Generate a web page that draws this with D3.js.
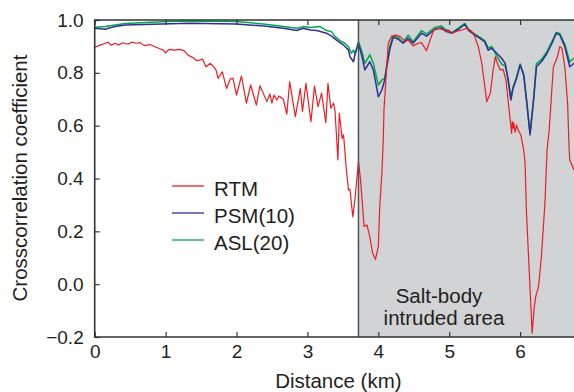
<!DOCTYPE html>
<html>
<head>
<meta charset="utf-8">
<script src="https://cdn.jsdelivr.net/npm/d3@7"></script>
<style>
  body { margin: 0; background: #fff; }
  svg text { font-family: "Liberation Sans", Arial, Helvetica, sans-serif; fill: #231f20; }
</style>
</head>
<body>
<div id="chart"></div>
<script>
// distance (km) / crosscorrelation
const rtmDist = [0.00,0.08,0.15,0.19,0.23,0.29,0.33,0.40,0.47,0.52,0.59,0.64,0.70,0.78,0.85,0.92,0.97,1.00,1.05,1.13,1.20,1.26,1.32,1.39,1.44,1.49,1.52,1.57,1.63,1.67,1.71,1.74,1.80,1.86,1.91,1.95,
  2.00,2.07,2.14,2.20,2.28,2.33,2.43,2.47,2.50,2.53,2.57,2.60,2.66,2.71,2.75,2.83,2.90,2.93,2.98,3.05,3.10,3.15,3.20,3.26,3.29,3.33,3.37,3.39,3.43,3.45,3.49,3.51,3.55,3.58,3.60,3.64,3.67,3.72,3.75,3.80,3.84,3.88,3.92,3.96,
  4.00,4.02,4.05,4.07,4.08,4.14,4.19,4.24,4.31,4.38,4.42,4.49,4.56,4.61,4.68,4.73,4.78,4.85,4.92,4.99,5.04,5.11,5.18,5.25,5.29,5.34,5.36,5.41,5.46,5.49,5.53,5.58,5.62,5.65,5.68,5.72,5.76,5.80,5.83,5.86,5.87,5.88,5.89,5.90,5.91,5.93,5.95,5.97,6.01,6.05,6.07,6.09,6.13,6.15,6.17,6.20,6.22,6.26,6.30,6.35,6.38,6.41,6.45,6.47,6.52,6.56,6.59,6.63,6.67,6.69,6.70,6.76];
const rtmVal = [0.897,0.905,0.912,0.916,0.905,0.912,0.905,0.914,0.908,0.916,0.912,0.914,0.903,0.907,0.899,0.891,0.886,0.876,0.889,0.886,0.889,0.884,0.866,0.857,0.846,0.849,0.852,0.823,0.836,0.826,0.811,0.779,0.804,0.741,0.776,0.779,
  0.716,0.788,0.685,0.754,0.678,0.751,0.691,0.720,0.685,0.716,0.697,0.712,0.700,0.644,0.766,0.634,0.741,0.653,0.760,0.615,0.750,0.672,0.723,0.611,0.760,0.666,0.685,0.653,0.470,0.647,0.552,0.565,0.432,0.357,0.359,0.255,0.319,0.464,0.394,0.218,0.224,0.180,0.117,0.094,
  0.142,0.293,0.420,0.546,0.659,0.912,0.939,0.943,0.937,0.918,0.924,0.902,0.912,0.914,0.884,0.924,0.960,0.969,0.962,0.962,0.950,0.958,0.962,0.969,0.962,0.950,0.937,0.899,0.836,0.773,0.691,0.723,0.811,0.861,0.836,0.811,0.813,0.773,0.697,0.621,0.600,0.571,0.615,0.590,0.612,0.575,0.603,0.585,0.565,0.508,0.458,0.268,0.041,-0.072,-0.186,-0.085,-0.047,-0.009,0.104,0.306,0.508,0.584,0.748,0.823,0.855,0.899,0.893,0.823,0.685,0.520,0.470,0.432];

const psmDist = [0.00,0.15,0.19,0.29,0.43,0.94,1.34,2.00,2.38,2.66,2.85,2.94,3.04,3.13,3.27,3.34,3.41,3.51,3.58,3.60,3.65,3.67,3.72,3.77,3.81,3.88,3.93,4.00,4.05,4.09,4.16,4.21,4.28,4.35,4.42,4.49,4.61,4.68,4.80,4.89,4.96,5.04,5.13,5.22,5.27,5.36,5.43,5.50,5.55,5.60,5.67,5.74,5.79,5.83,5.87,5.90,5.95,6.00,6.05,6.09,6.14,6.19,6.23,6.30,6.38,6.45,6.51,6.56,6.63,6.70,6.76];
const psmVal = [0.969,0.965,0.969,0.975,0.981,0.985,0.988,0.985,0.977,0.969,0.960,0.969,0.962,0.960,0.950,0.939,0.924,0.905,0.886,0.861,0.842,0.868,0.912,0.861,0.811,0.842,0.811,0.710,0.735,0.773,0.886,0.935,0.927,0.912,0.931,0.912,0.950,0.939,0.965,0.970,0.956,0.950,0.965,0.983,0.962,0.943,0.931,0.918,0.886,0.893,0.874,0.855,0.836,0.773,0.697,0.741,0.779,0.830,0.792,0.697,0.565,0.697,0.823,0.842,0.874,0.912,0.950,0.943,0.899,0.823,0.836];

const aslDist = [0.00,0.15,0.29,0.43,1.02,1.34,2.00,2.38,2.66,2.85,2.94,3.04,3.18,3.27,3.34,3.39,3.46,3.53,3.58,3.62,3.65,3.67,3.72,3.77,3.81,3.88,3.93,4.00,4.05,4.09,4.16,4.21,4.28,4.35,4.42,4.49,4.61,4.68,4.80,4.89,4.96,5.04,5.13,5.22,5.27,5.36,5.43,5.50,5.55,5.60,5.67,5.74,5.79,5.83,5.87,5.90,5.95,6.00,6.05,6.09,6.14,6.19,6.23,6.30,6.38,6.45,6.51,6.56,6.63,6.70,6.76];
const aslVal = [0.973,0.975,0.981,0.987,0.994,0.996,0.994,0.985,0.975,0.969,0.975,0.972,0.975,0.960,0.956,0.937,0.922,0.912,0.899,0.874,0.886,0.871,0.918,0.880,0.836,0.868,0.836,0.754,0.773,0.779,0.899,0.939,0.935,0.914,0.943,0.918,0.960,0.947,0.972,0.977,0.962,0.952,0.969,0.987,0.966,0.947,0.935,0.922,0.894,0.900,0.864,0.833,0.826,0.780,0.705,0.746,0.784,0.834,0.796,0.701,0.572,0.701,0.834,0.850,0.881,0.919,0.953,0.949,0.909,0.841,0.856];

const seriesNames = ["RTM", "PSM(10)", "ASL(20)"];
const seriesColors = ["#ed1c24", "#2e3192", "#00a651"];
const yTicks = [-0.2, 0.0, 0.2, 0.4, 0.6, 0.8, 1.0];
const xTicks = [0, 1, 2, 3, 4, 5, 6];
const saltStart = 3.72;   // km, start of salt-body intruded area
const saltLabel = ["Salt-body", "intruded area"];

const W = 574, H = 392;
const m = { top: 20, left: 94.7, bottom: 55, right: 0 };
const svg = d3.select("#chart").append("svg").attr("width", W).attr("height", H);

const x = d3.scaleLinear().domain([0, 6.76]).range([m.left, W - m.right]);
const y = d3.scaleLinear().domain([-0.2, 1.0]).range([H - m.bottom, m.top]);
const ink = "#333";

svg.append("defs").append("clipPath").attr("id", "plot")
  .append("rect").attr("x", m.left).attr("y", m.top)
  .attr("width", x.range()[1] - m.left).attr("height", y.range()[0] - m.top);

// shaded salt area
svg.append("rect")
  .attr("x", x(saltStart)).attr("y", m.top)
  .attr("width", x.range()[1] - x(saltStart)).attr("height", y(-0.2) - m.top)
  .attr("fill", "#d1d3d4");

svg.append("g").selectAll("text").data(saltLabel).join("text")
  .attr("x", (d, i) => i ? 444 : 439).attr("y", (d, i) => 303 + i * 22)
  .attr("text-anchor", "middle").attr("font-size", 20.5).text(d => d);

// curves
const line = d3.line().x(d => x(d[0])).y(d => y(d[1]));
const data = [
  { k: 2, pts: d3.zip(aslDist, aslVal), w: 1.5 },
  { k: 1, pts: d3.zip(psmDist, psmVal), w: 1.5 },
  { k: 0, pts: d3.zip(rtmDist, rtmVal), w: 1.2 }
];
svg.append("g").attr("clip-path", "url(#plot)").selectAll("path").data(data).join("path")
  .attr("d", d => line(d.pts)).attr("fill", "none")
  .attr("stroke", d => seriesColors[d.k]).attr("stroke-width", d => d.w)
  .attr("stroke-linejoin", "round");

// salt boundary + frame
svg.append("line").attr("x1", x(saltStart)).attr("x2", x(saltStart))
  .attr("y1", m.top).attr("y2", y(-0.2)).attr("stroke", "#555").attr("stroke-width", 1.5);

const fmt = d3.format(".1f");
const gy = svg.append("g").attr("transform", `translate(${m.left},0)`)
  .call(d3.axisLeft(y).tickValues(yTicks).tickFormat(fmt).tickSizeInner(-5).tickSizeOuter(0).tickPadding(11));
const gx = svg.append("g").attr("transform", `translate(0,${y(-0.2)})`)
  .call(d3.axisBottom(x).tickValues(xTicks).tickFormat(d3.format("d")).tickSizeInner(-5).tickSizeOuter(0).tickPadding(8));
const gt = svg.append("g").attr("transform", `translate(0,${m.top})`)
  .call(d3.axisTop(x).tickValues(xTicks).tickFormat("").tickSizeInner(-5).tickSizeOuter(0));
[gy, gx, gt].forEach(g => {
  g.select(".domain").remove();
  g.selectAll("line").attr("stroke", ink).attr("stroke-width", 1.2);
  g.selectAll("text").attr("font-size", 19).attr("font-family", null).style("fill", "#231f20");
});

svg.append("path")
  .attr("d", `M${W},${m.top}H${m.left}V${y(-0.2)}H${W}`)
  .attr("fill", "none").attr("stroke", ink).attr("stroke-width", 1.6);

// axis titles
svg.append("text").attr("x", (m.left + W) / 2 + 4).attr("y", 388)
  .attr("text-anchor", "middle").attr("font-size", 20.5).text("Distance (km)");
svg.append("text").attr("transform", `translate(27,178) rotate(-90)`)
  .attr("text-anchor", "middle").attr("font-size", 20.5).text("Crosscorrelation coefficient");

// legend
const lg = svg.append("g").selectAll("g").data(seriesNames).join("g")
  .attr("transform", (d, i) => `translate(172,${186 + i * 27})`);
lg.append("line").attr("x1", 0).attr("x2", 32)
  .attr("stroke", (d, i) => seriesColors[i]).attr("stroke-width", 1.3);
lg.append("text").attr("x", 42).attr("y", 10).attr("font-size", 20.5).text(d => d);
</script>
</body>
</html>
